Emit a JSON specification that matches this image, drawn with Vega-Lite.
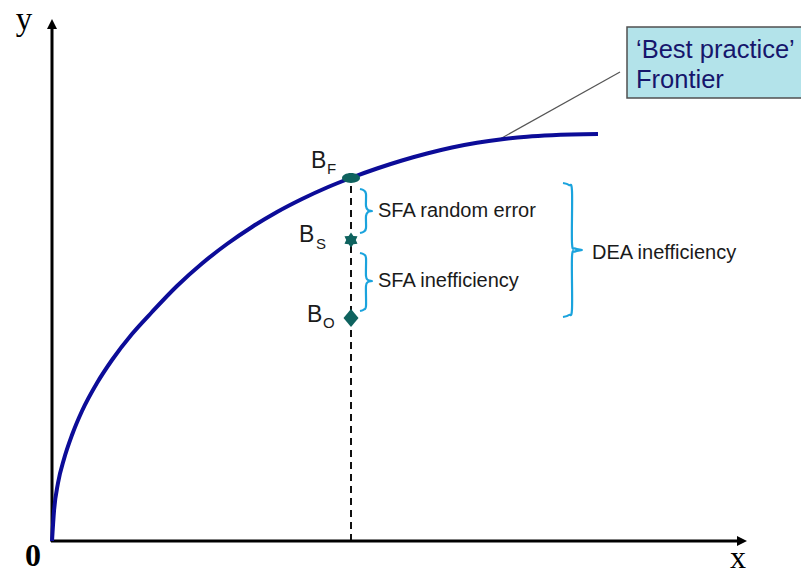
{
  "$schema": "https://vega.github.io/schema/vega-lite/v6.json",
  "width": 801,
  "height": 575,
  "padding": 0,
  "autosize": {"type": "none"},
  "background": "white",
  "config": {"view": {"stroke": null}},
  "datasets": {
    "curve": [
      {"X": 0, "Y": 0}, {"X": 2, "Y": 30}, {"X": 6, "Y": 58}, {"X": 12, "Y": 82},
      {"X": 20, "Y": 106}, {"X": 30, "Y": 130}, {"X": 45, "Y": 158}, {"X": 60, "Y": 181},
      {"X": 80, "Y": 207}, {"X": 100, "Y": 229}, {"X": 125, "Y": 255}, {"X": 150, "Y": 277.5},
      {"X": 175, "Y": 297}, {"X": 200, "Y": 314}, {"X": 225, "Y": 329}, {"X": 250, "Y": 342},
      {"X": 275, "Y": 353.5}, {"X": 300, "Y": 363.5}, {"X": 325, "Y": 372.5}, {"X": 350, "Y": 380.5},
      {"X": 375, "Y": 387.5}, {"X": 400, "Y": 393.5}, {"X": 425, "Y": 398.25}, {"X": 450, "Y": 401.75},
      {"X": 475, "Y": 404.25}, {"X": 500, "Y": 405.75}, {"X": 546, "Y": 406.9}
    ],
    "axes": [
      {"X": 0, "Y": -1, "X2": 0, "Y2": 512},
      {"X": -1, "Y": 0, "X2": 685, "Y2": 0}
    ],
    "arrowUp": [{"X": 0, "Y": 517}],
    "arrowRight": [{"X": 690, "Y": 0}],
    "dashed": [{"X": 299, "Y": 0, "X2": 299, "Y2": 362}],
    "leader": [{"X": 448, "Y": 402, "X2": 568, "Y2": 469}],
    "braces": [
      {"b": 1, "i": 0, "X": 308, "Y": 352}, {"b": 1, "i": 1, "X": 312, "Y": 350.5},
      {"b": 1, "i": 2, "X": 314, "Y": 347}, {"b": 1, "i": 3, "X": 314, "Y": 335},
      {"b": 1, "i": 4, "X": 316, "Y": 331}, {"b": 1, "i": 5, "X": 320, "Y": 330},
      {"b": 1, "i": 6, "X": 316, "Y": 329}, {"b": 1, "i": 7, "X": 314, "Y": 325},
      {"b": 1, "i": 8, "X": 314, "Y": 313}, {"b": 1, "i": 9, "X": 312, "Y": 309.5},
      {"b": 1, "i": 10, "X": 308, "Y": 308},
      {"b": 2, "i": 0, "X": 308, "Y": 288}, {"b": 2, "i": 1, "X": 312, "Y": 286.5},
      {"b": 2, "i": 2, "X": 314, "Y": 283}, {"b": 2, "i": 3, "X": 314, "Y": 265},
      {"b": 2, "i": 4, "X": 316, "Y": 261}, {"b": 2, "i": 5, "X": 320, "Y": 260},
      {"b": 2, "i": 6, "X": 316, "Y": 259}, {"b": 2, "i": 7, "X": 314, "Y": 255},
      {"b": 2, "i": 8, "X": 314, "Y": 235}, {"b": 2, "i": 9, "X": 312, "Y": 231.5},
      {"b": 2, "i": 10, "X": 308, "Y": 230},
      {"b": 3, "i": 0, "X": 511, "Y": 358}, {"b": 3, "i": 1, "X": 517, "Y": 356},
      {"b": 3, "i": 2, "X": 520, "Y": 350}, {"b": 3, "i": 3, "X": 520, "Y": 298},
      {"b": 3, "i": 4, "X": 523, "Y": 292.5}, {"b": 3, "i": 5, "X": 530, "Y": 291},
      {"b": 3, "i": 6, "X": 523, "Y": 289.5}, {"b": 3, "i": 7, "X": 520, "Y": 284},
      {"b": 3, "i": 8, "X": 520, "Y": 232}, {"b": 3, "i": 9, "X": 517, "Y": 226},
      {"b": 3, "i": 10, "X": 511, "Y": 224}
    ],
    "box": [{"X": 575, "X2": 760, "Y": 443, "Y2": 514}],
    "bf": [{"X": 299, "Y": 363}],
    "bs": [{"X": 299, "Y": 301}],
    "bo": [{"X": 299, "Y": 223}],
    "bigB": [
      {"X": 259, "Y": 373, "t": "B"},
      {"X": 247, "Y": 299, "t": "B"},
      {"X": 255, "Y": 219, "t": "B"}
    ],
    "subs": [
      {"X": 275, "Y": 367, "t": "F"},
      {"X": 264, "Y": 292, "t": "S"},
      {"X": 271, "Y": 213, "t": "O"}
    ],
    "notes": [
      {"X": 326, "Y": 330, "t": "SFA random error"},
      {"X": 326, "Y": 260, "t": "SFA inefficiency"},
      {"X": 540, "Y": 288, "t": "DEA inefficiency"}
    ],
    "boxText": [
      {"X": 584, "Y": 483, "t": "‘Best practice’"},
      {"X": 584, "Y": 453, "t": "Frontier"}
    ],
    "yLabel": [{"X": -28, "Y": 511, "t": "y"}],
    "xLabel": [{"X": 686, "Y": -34, "t": "x"}],
    "zero": [{"X": -19, "Y": -25, "t": "0"}]
  },
  "layer": [
    {
      "data": {"name": "box"},
      "mark": {"type": "rect", "fill": "#b3e3ea", "stroke": "#505050", "strokeWidth": 1.5},
      "encoding": {
        "x": {"field": "X", "type": "quantitative", "scale": {"domain": [-52, 749], "nice": false, "zero": false}, "axis": null},
        "x2": {"field": "X2"},
        "y": {"field": "Y", "type": "quantitative", "scale": {"domain": [-34, 541], "nice": false, "zero": false}, "axis": null},
        "y2": {"field": "Y2"}
      }
    },
    {
      "data": {"name": "leader"},
      "mark": {"type": "rule", "color": "#555555", "strokeWidth": 1.2},
      "encoding": {
        "x": {"field": "X", "type": "quantitative", "scale": {"domain": [-52, 749], "nice": false, "zero": false}, "axis": null},
        "x2": {"field": "X2"},
        "y": {"field": "Y", "type": "quantitative", "scale": {"domain": [-34, 541], "nice": false, "zero": false}, "axis": null},
        "y2": {"field": "Y2"}
      }
    },
    {
      "data": {"name": "dashed"},
      "mark": {"type": "rule", "color": "#111111", "strokeWidth": 2, "strokeDash": [7, 5]},
      "encoding": {
        "x": {"field": "X", "type": "quantitative", "scale": {"domain": [-52, 749], "nice": false, "zero": false}, "axis": null},
        "x2": {"field": "X2"},
        "y": {"field": "Y", "type": "quantitative", "scale": {"domain": [-34, 541], "nice": false, "zero": false}, "axis": null},
        "y2": {"field": "Y2"}
      }
    },
    {
      "data": {"name": "axes"},
      "mark": {"type": "rule", "color": "#000000", "strokeWidth": 3},
      "encoding": {
        "x": {"field": "X", "type": "quantitative", "scale": {"domain": [-52, 749], "nice": false, "zero": false}, "axis": null},
        "x2": {"field": "X2"},
        "y": {"field": "Y", "type": "quantitative", "scale": {"domain": [-34, 541], "nice": false, "zero": false}, "axis": null},
        "y2": {"field": "Y2"}
      }
    },
    {
      "data": {"name": "arrowUp"},
      "mark": {"type": "point", "shape": "M0,-1L1,1L-1,1Z", "size": 100, "filled": true, "color": "#000000", "opacity": 1},
      "encoding": {
        "x": {"field": "X", "type": "quantitative", "scale": {"domain": [-52, 749], "nice": false, "zero": false}, "axis": null},
        "y": {"field": "Y", "type": "quantitative", "scale": {"domain": [-34, 541], "nice": false, "zero": false}, "axis": null}
      }
    },
    {
      "data": {"name": "arrowRight"},
      "mark": {"type": "point", "shape": "M1,0L-1,-1L-1,1Z", "size": 100, "filled": true, "color": "#000000", "opacity": 1},
      "encoding": {
        "x": {"field": "X", "type": "quantitative", "scale": {"domain": [-52, 749], "nice": false, "zero": false}, "axis": null},
        "y": {"field": "Y", "type": "quantitative", "scale": {"domain": [-34, 541], "nice": false, "zero": false}, "axis": null}
      }
    },
    {
      "data": {"name": "curve"},
      "mark": {"type": "line", "color": "#0c0c98", "strokeWidth": 4, "interpolate": "monotone"},
      "encoding": {
        "x": {"field": "X", "type": "quantitative", "scale": {"domain": [-52, 749], "nice": false, "zero": false}, "axis": null},
        "y": {"field": "Y", "type": "quantitative", "scale": {"domain": [-34, 541], "nice": false, "zero": false}, "axis": null}
      }
    },
    {
      "data": {"name": "braces"},
      "mark": {"type": "line", "color": "#1aa3dd", "strokeWidth": 2.2, "interpolate": "cardinal"},
      "encoding": {
        "x": {"field": "X", "type": "quantitative", "scale": {"domain": [-52, 749], "nice": false, "zero": false}, "axis": null},
        "y": {"field": "Y", "type": "quantitative", "scale": {"domain": [-34, 541], "nice": false, "zero": false}, "axis": null},
        "detail": {"field": "b", "type": "nominal"},
        "order": {"field": "i", "type": "quantitative"}
      }
    },
    {
      "data": {"name": "bf"},
      "mark": {"type": "point", "shape": "M-1,0A1,0.55 0 1,1 1,0A1,0.55 0 1,1 -1,0Z", "size": 324, "filled": true, "color": "#0e625e", "opacity": 1},
      "encoding": {
        "x": {"field": "X", "type": "quantitative", "scale": {"domain": [-52, 749], "nice": false, "zero": false}, "axis": null},
        "y": {"field": "Y", "type": "quantitative", "scale": {"domain": [-34, 541], "nice": false, "zero": false}, "axis": null}
      }
    },
    {
      "data": {"name": "bs"},
      "mark": {"type": "point", "shape": "M0,-1L0.32,-0.55L0.866,-0.5L0.64,0L0.866,0.5L0.32,0.55L0,1L-0.32,0.55L-0.866,0.5L-0.64,0L-0.866,-0.5L-0.32,-0.55Z", "size": 225, "filled": true, "color": "#0e625e", "opacity": 1},
      "encoding": {
        "x": {"field": "X", "type": "quantitative", "scale": {"domain": [-52, 749], "nice": false, "zero": false}, "axis": null},
        "y": {"field": "Y", "type": "quantitative", "scale": {"domain": [-34, 541], "nice": false, "zero": false}, "axis": null}
      }
    },
    {
      "data": {"name": "bo"},
      "mark": {"type": "point", "shape": "M0,-1.2L1,0L0,1.2L-1,0Z", "size": 225, "filled": true, "color": "#0e625e", "opacity": 1},
      "encoding": {
        "x": {"field": "X", "type": "quantitative", "scale": {"domain": [-52, 749], "nice": false, "zero": false}, "axis": null},
        "y": {"field": "Y", "type": "quantitative", "scale": {"domain": [-34, 541], "nice": false, "zero": false}, "axis": null}
      }
    },
    {
      "data": {"name": "bigB"},
      "mark": {"type": "text", "font": "Liberation Sans", "fontSize": 23, "align": "left", "baseline": "alphabetic", "color": "#1a1a1a"},
      "encoding": {
        "x": {"field": "X", "type": "quantitative", "scale": {"domain": [-52, 749], "nice": false, "zero": false}, "axis": null},
        "y": {"field": "Y", "type": "quantitative", "scale": {"domain": [-34, 541], "nice": false, "zero": false}, "axis": null},
        "text": {"field": "t"}
      }
    },
    {
      "data": {"name": "subs"},
      "mark": {"type": "text", "font": "Liberation Sans", "fontSize": 15, "align": "left", "baseline": "alphabetic", "color": "#1a1a1a"},
      "encoding": {
        "x": {"field": "X", "type": "quantitative", "scale": {"domain": [-52, 749], "nice": false, "zero": false}, "axis": null},
        "y": {"field": "Y", "type": "quantitative", "scale": {"domain": [-34, 541], "nice": false, "zero": false}, "axis": null},
        "text": {"field": "t"}
      }
    },
    {
      "data": {"name": "notes"},
      "mark": {"type": "text", "font": "Liberation Sans", "fontSize": 20, "align": "left", "baseline": "middle", "color": "#1a1a1a"},
      "encoding": {
        "x": {"field": "X", "type": "quantitative", "scale": {"domain": [-52, 749], "nice": false, "zero": false}, "axis": null},
        "y": {"field": "Y", "type": "quantitative", "scale": {"domain": [-34, 541], "nice": false, "zero": false}, "axis": null},
        "text": {"field": "t"}
      }
    },
    {
      "data": {"name": "boxText"},
      "mark": {"type": "text", "font": "Liberation Sans", "fontSize": 25.5, "align": "left", "baseline": "alphabetic", "color": "#16166c"},
      "encoding": {
        "x": {"field": "X", "type": "quantitative", "scale": {"domain": [-52, 749], "nice": false, "zero": false}, "axis": null},
        "y": {"field": "Y", "type": "quantitative", "scale": {"domain": [-34, 541], "nice": false, "zero": false}, "axis": null},
        "text": {"field": "t"}
      }
    },
    {
      "data": {"name": "yLabel"},
      "mark": {"type": "text", "font": "Liberation Serif", "fontSize": 33, "align": "center", "baseline": "alphabetic", "color": "#000000"},
      "encoding": {
        "x": {"field": "X", "type": "quantitative", "scale": {"domain": [-52, 749], "nice": false, "zero": false}, "axis": null},
        "y": {"field": "Y", "type": "quantitative", "scale": {"domain": [-34, 541], "nice": false, "zero": false}, "axis": null},
        "text": {"field": "t"}
      }
    },
    {
      "data": {"name": "xLabel"},
      "mark": {"type": "text", "font": "Liberation Serif", "fontSize": 32, "align": "center", "baseline": "bottom", "color": "#000000"},
      "encoding": {
        "x": {"field": "X", "type": "quantitative", "scale": {"domain": [-52, 749], "nice": false, "zero": false}, "axis": null},
        "y": {"field": "Y", "type": "quantitative", "scale": {"domain": [-34, 541], "nice": false, "zero": false}, "axis": null},
        "text": {"field": "t"}
      }
    },
    {
      "data": {"name": "zero"},
      "mark": {"type": "text", "font": "Liberation Serif", "fontSize": 32, "fontWeight": "bold", "align": "center", "baseline": "alphabetic", "color": "#000000"},
      "encoding": {
        "x": {"field": "X", "type": "quantitative", "scale": {"domain": [-52, 749], "nice": false, "zero": false}, "axis": null},
        "y": {"field": "Y", "type": "quantitative", "scale": {"domain": [-34, 541], "nice": false, "zero": false}, "axis": null},
        "text": {"field": "t"}
      }
    }
  ]
}
